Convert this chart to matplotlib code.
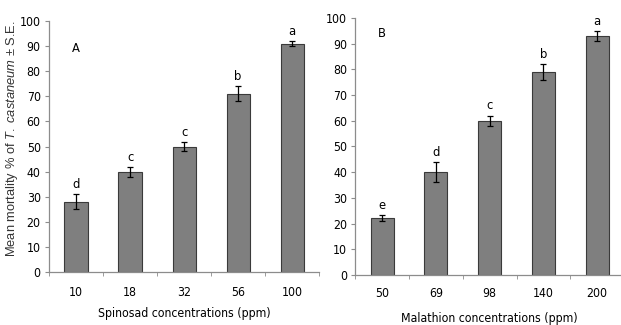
import numpy as np
import matplotlib
matplotlib.use("Agg")
import matplotlib.pyplot as plt
from matplotlib.ticker import FixedLocator

# ============================================================
# 数据
# ============================================================
spin_conc = ["10", "18", "32", "56", "100"]
spin_mean = [28, 40, 50, 71, 91]
spin_se = [3, 2, 1.8, 3, 1]
spin_letters = ["d", "c", "c", "b", "a"]

mala_conc = ["50", "69", "98", "140", "200"]
mala_mean = [22, 40, 60, 79, 93]
mala_se = [1.2, 4, 2, 3, 2]
mala_letters = ["e", "d", "c", "b", "a"]

plt.rcParams["font.family"] = ["DejaVu Sans"]
plt.rcParams["font.stretch"] = "condensed"
plt.rcParams["mathtext.fontset"] = "custom"
plt.rcParams["mathtext.it"] = "Liberation Sans:italic"
plt.rcParams["mathtext.rm"] = "Liberation Sans"

BAR_COLOR = "#7f7f7f"
EDGE_COLOR = "#3a3a3a"
AXIS_COLOR = "#8c8c8c"
FS = 8.8

fig = plt.figure(figsize=(6.21, 3.25), dpi=100)
ax1 = fig.add_axes([0.079, 0.163, 0.435, 0.772])
ax2 = fig.add_axes([0.572, 0.154, 0.433, 0.791])


def draw_panel(ax, labels, means, ses, letters, xlabel, tag, tag_y, tpad, lpad):
    x = np.arange(len(labels))
    ax.bar(x, means, width=0.43, color=BAR_COLOR, edgecolor=EDGE_COLOR, linewidth=0.8)
    ax.errorbar(x, means, yerr=ses, fmt="none", ecolor="black",
                elinewidth=0.9, capsize=2.5, capthick=0.9)
    for xi, m, s, lt in zip(x, means, ses, letters):
        ax.text(xi, m + s + 1.2, lt, ha="center", va="bottom", fontsize=FS + 0.5)
    ax.set_xlim(-0.5, len(labels) - 0.5)
    ax.set_ylim(0, 100)
    ax.set_yticks(range(0, 101, 10))
    ax.set_xticks(x)
    ax.set_xticklabels(labels)
    ax.xaxis.set_minor_locator(FixedLocator(np.arange(-0.5, len(labels), 1.0)))
    ax.tick_params(axis="x", which="major", length=0, pad=tpad, labelsize=FS)
    ax.tick_params(axis="x", which="minor", length=3, color=AXIS_COLOR, direction="out")
    ax.tick_params(axis="y", length=3, color=AXIS_COLOR, labelsize=FS, pad=3)
    for side in ["top", "right"]:
        ax.spines[side].set_visible(False)
    for side in ["left", "bottom"]:
        ax.spines[side].set_color(AXIS_COLOR)
        ax.spines[side].set_linewidth(0.9)
    ax.set_xlabel(xlabel, fontsize=FS, labelpad=lpad)
    ax.text(0, tag_y, tag, ha="center", va="center", fontsize=FS + 0.5)


draw_panel(ax1, spin_conc, spin_mean, spin_se, spin_letters,
           "Spinosad concentrations (ppm)", "A", 89, 10.2, 5.5)
draw_panel(ax2, mala_conc, mala_mean, mala_se, mala_letters,
           "Malathion concentrations (ppm)", "B", 94, 8.7, 8.5)

fig.text(0.02, 0.572, r"Mean mortality % of $\it{T.\ castaneum}$ ± S.E.",
         rotation=90, ha="center", va="center", fontsize=9.3,
         family=["Liberation Sans", "DejaVu Sans"], stretch="normal", color="#333333")

fig.savefig("out.png", dpi=100)
